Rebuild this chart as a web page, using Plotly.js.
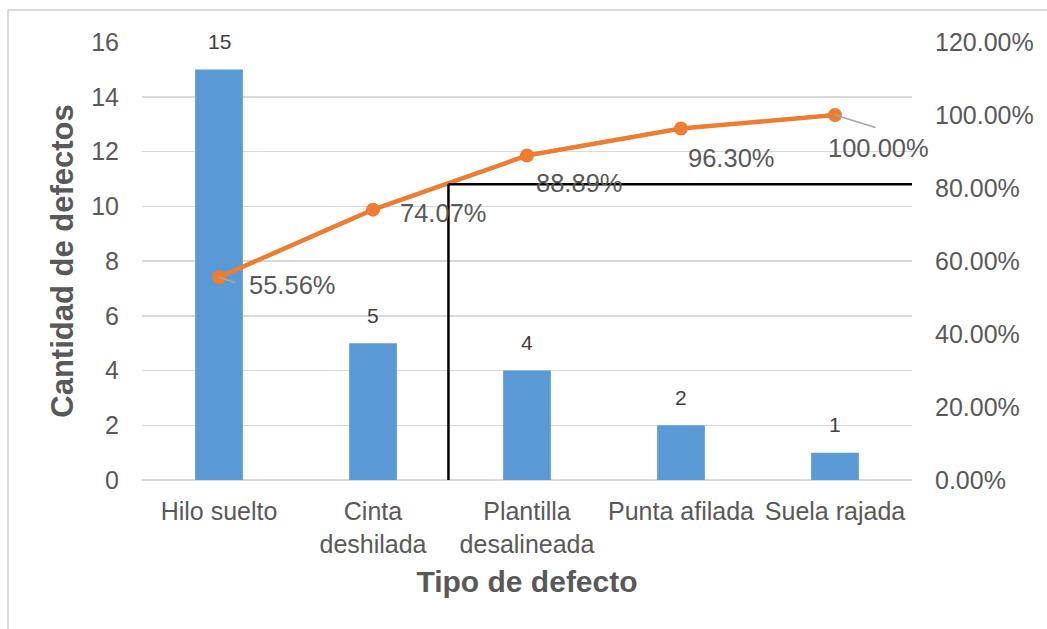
<!DOCTYPE html>
<html>
<head>
<meta charset="utf-8">
<script src="https://cdn.plot.ly/plotly-3.0.1.min.js"></script>
<style>html,body{margin:0;padding:0;background:#fff;}#chart{width:1047px;height:629px;}</style>
</head>
<body>
<div id="chart"></div>
<script>
const categories = ["Hilo suelto", "Cinta<br>deshilada", "Plantilla<br>desalineada", "Punta afilada", "Suela rajada"];
const defectCounts = [15, 5, 4, 2, 1];
const cumulativePct = [0.5556, 0.7407, 0.8889, 0.9630, 1.0000];
const cumulativeLabels = ["55.56%", "74.07%", "88.89%", "96.30%", "100.00%"];
const leftTicks = [0, 2, 4, 6, 8, 10, 12, 14, 16];
const rightTicks = [0, 0.2, 0.4, 0.6, 0.8, 1.0, 1.2];

const FONT = "Liberation Sans, Arial, sans-serif";
const TXT = "#595959";

// label offsets (style) for the cumulative line labels
const lblStyle = [
  {xshift: 28, yshift: -8},
  {xshift: 25, yshift: -3},
  {xshift: 7, yshift: -27},
  {xshift: 5, yshift: -29},
  {xshift: -9, yshift: -33}
];

const annotations = [];
categories.forEach((c, i) => {
  annotations.push({
    x: c, y: defectCounts[i], xref: "x", yref: "y",
    text: String(defectCounts[i]), showarrow: false,
    yshift: 28, font: {family: FONT, size: 21, color: "#404040"}
  });
  annotations.push({
    x: c, y: cumulativePct[i], xref: "x", yref: "y2",
    text: cumulativeLabels[i], showarrow: false,
    xanchor: "left", yanchor: "middle",
    xshift: lblStyle[i].xshift, yshift: lblStyle[i].yshift,
    font: {family: FONT, size: 25.5, color: TXT}
  });
});
// leader lines
annotations.push({x: categories[0], y: cumulativePct[0], xref: "x", yref: "y2", text: "",
  showarrow: true, arrowhead: 0, arrowwidth: 1.5, arrowcolor: "#A6A6A6", ax: 18, ay: 6, standoff: 0});
annotations.push({x: categories[4], y: cumulativePct[4], xref: "x", yref: "y2", text: "",
  showarrow: true, arrowhead: 0, arrowwidth: 1.5, arrowcolor: "#A6A6A6", ax: 42, ay: 13, standoff: 0});

const traces = [
  {
    type: "bar", x: categories, y: defectCounts, yaxis: "y",
    marker: {color: "#5B9BD5"}, width: 0.31, hoverinfo: "x+y", cliponaxis: false
  },
  {
    type: "scatter", mode: "lines+markers", x: categories, y: cumulativePct, yaxis: "y2",
    line: {color: "#ED7D31", width: 4.5}, marker: {color: "#ED7D31", size: 14},
    cliponaxis: false
  }
];

const layout = {
  width: 1047, height: 629,
  margin: {l: 142, r: 135, t: 42, b: 149},
  paper_bgcolor: "#ffffff", plot_bgcolor: "#ffffff",
  showlegend: false,
  font: {family: FONT, color: TXT, size: 25},
  xaxis: {
    type: "category", range: [-0.5, 4.5],
    showgrid: false, zeroline: false, showline: false,
    ticks: "", ticklabelstandoff: 14,
    tickfont: {family: FONT, size: 25, color: TXT},
    title: {text: "<b>Tipo de defecto</b>", font: {family: FONT, size: 30, color: TXT}, standoff: 14}
  },
  yaxis: {
    range: [0, 16], tickvals: leftTicks, ticktext: leftTicks.map(String),
    showgrid: true, gridcolor: "#D9D9D9", gridwidth: 1.5,
    zeroline: true, zerolinecolor: "#D9D9D9", zerolinewidth: 1.5,
    showline: false, ticks: "", ticklabelstandoff: 22,
    tickfont: {family: FONT, size: 25, color: TXT},
    title: {text: "<b>Cantidad de defectos</b>", font: {family: FONT, size: 31, color: TXT}, standoff: 8}
  },
  yaxis2: {
    overlaying: "y", side: "right", range: [0, 1.2],
    tickvals: rightTicks, tickformat: ".2%",
    showgrid: false, zeroline: false, showline: false,
    ticks: "", ticklabelstandoff: 22,
    tickfont: {family: FONT, size: 25, color: TXT}
  },
  annotations: annotations,
  shapes: [
    {type: "line", xref: "x", yref: "y2", x0: 1.49, x1: 1.49, y0: -0.008, y1: 0.81,
      line: {color: "#000000", width: 2.5}},
    {type: "line", xref: "x", yref: "y2", x0: 1.49, x1: 4.5, y0: 0.81, y1: 0.81,
      line: {color: "#000000", width: 2.5}},
    {type: "line", xref: "paper", yref: "paper", x0: -0.174, x1: 1.18, y0: 1.073, y1: 1.073,
      line: {color: "#D9D9D9", width: 2}},
    {type: "line", xref: "paper", yref: "paper", x0: -0.174, x1: -0.174, y0: 1.073, y1: -0.35,
      line: {color: "#D9D9D9", width: 2}}
  ]
};

Plotly.newPlot("chart", traces, layout, {displayModeBar: false, staticPlot: true});
</script>
</body>
</html>
